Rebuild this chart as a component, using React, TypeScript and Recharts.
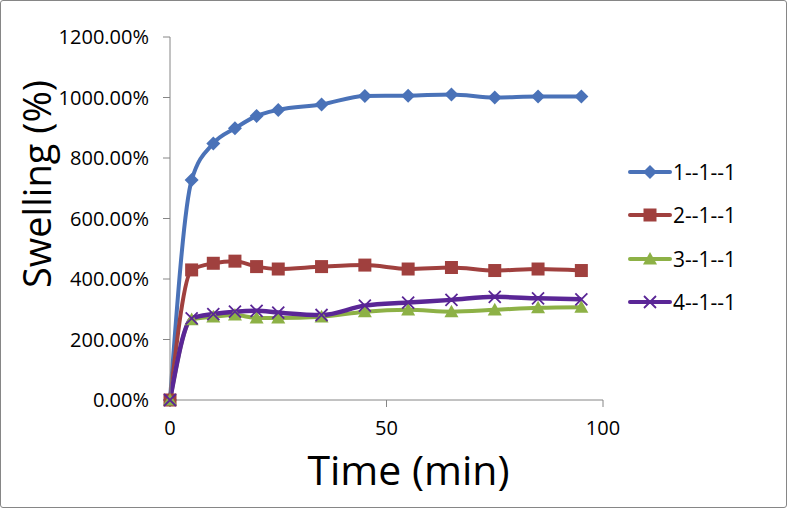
import React from "react"
import { Label, Line, LineChart, XAxis, YAxis } from "recharts"

const times = [0, 5, 10, 15, 20, 25, 35, 45, 55, 65, 75, 85, 95]
const s1 = [0, 727, 848, 898, 939, 959, 977, 1005, 1006, 1010, 1000, 1003, 1003]
const s2 = [0, 430, 452, 459, 441, 433, 441, 446, 433, 438, 428, 433, 428]
const s3 = [0, 266, 275, 281, 271, 271, 275, 292, 298, 292, 298, 305, 307]
const s4 = [0, 270, 284, 292, 295, 289, 281, 312, 322, 331, 341, 336, 333]
const yTicks = [0, 200, 400, 600, 800, 1000, 1200]
const xTicks = [0, 50, 100]
const seriesNames = ["1--1--1", "2--1--1", "3--1--1", "4--1--1"]

const data = times.map((t, i) => ({ t, a: s1[i], b: s2[i], c: s3[i], d: s4[i] }))

const FONT = "'Open Sans', sans-serif"
const AXIS = "#868686"
const colors = ["#4A72B8", "#A0403E", "#8DB146", "#5A2696"]

type Shape = "diamond" | "square" | "triangle" | "cross"
const shapes: Shape[] = ["diamond", "square", "triangle", "cross"]

function Marker({ cx, cy, shape, color }: { cx: number; cy: number; shape: Shape; color: string }) {
  if (shape === "diamond") {
    const r = 7
    return <path d={`M${cx},${cy - r}L${cx + r},${cy}L${cx},${cy + r}L${cx - r},${cy}Z`} fill={color} />
  }
  if (shape === "square") {
    const r = 6.5
    return <rect x={cx - r} y={cy - r} width={r * 2} height={r * 2} fill={color} />
  }
  if (shape === "triangle") {
    const r = 7
    return <path d={`M${cx},${cy - r}L${cx + r},${cy + r * 0.8}L${cx - r},${cy + r * 0.8}Z`} fill={color} />
  }
  const r = 6
  return (
    <path
      d={`M${cx - r},${cy - r}L${cx + r},${cy + r}M${cx - r},${cy + r}L${cx + r},${cy - r}`}
      stroke={color}
      strokeWidth={1.8}
      fill="none"
    />
  )
}

const dotFor = (shape: Shape, color: string) => (props: any) => (
  <g key={`${shape}-${props.index}`}>
    <Marker cx={props.cx} cy={props.cy} shape={shape} color={color} />
  </g>
)

function LegendBox() {
  return (
    <div style={{ position: "absolute", left: 628, top: 150, fontFamily: FONT, fontSize: 21, color: "#000" }}>
      {seriesNames.map((name, i) => (
        <div key={name} style={{ display: "flex", alignItems: "center", height: 43.5 }}>
          <svg width={44} height={20} style={{ display: "block" }}>
            <line x1={2} y1={10} x2={42} y2={10} stroke={colors[i]} strokeWidth={4} strokeLinecap="round" />
            <Marker cx={22} cy={10} shape={shapes[i]} color={colors[i]} />
          </svg>
          <span style={{ marginLeft: 1 }}>{name}</span>
        </div>
      ))}
    </div>
  )
}

export default function App() {
  const keys = ["a", "b", "c", "d"]
  const widths = [4, 4, 4, 4.5]
  return (
    <div style={{ position: "fixed", left: 0, top: 0, width: 787, height: 508, background: "#fff" }}>
      <LineChart width={787} height={508} data={data} margin={{ top: 37, right: 184, bottom: 0, left: 0 }}>
        <XAxis
          dataKey="t"
          type="number"
          domain={[0, 100]}
          ticks={xTicks}
          height={108}
          stroke={AXIS}
          tickSize={7}
          tick={{ fill: "#000", fontFamily: FONT, fontSize: 20 }}
          tickMargin={14}
        >
          <Label
            content={({ viewBox }: any) => (
              <text
                x={viewBox.x + viewBox.width / 2 + 22}
                y={485}
                textAnchor="middle"
                fontFamily={FONT}
                fontSize={41}
                fill="#000"
              >
                Time (min)
              </text>
            )}
          />
        </XAxis>
        <YAxis
          type="number"
          domain={[0, 1200]}
          ticks={yTicks}
          width={170}
          stroke={AXIS}
          tickSize={7}
          tickMargin={14}
          tickFormatter={(v: number) => `${v.toFixed(2)}%`}
          tick={{ fill: "#000", fontFamily: FONT, fontSize: 20 }}
        >
          <Label
            content={() => (
              <text
                x={0}
                y={0}
                transform="translate(51,184) rotate(-90)"
                textAnchor="middle"
                fontFamily={FONT}
                fontSize={38}
                fill="#000"
              >
                Swelling (%)
              </text>
            )}
          />
        </YAxis>
        {keys.map((k, i) => (
          <Line
            key={k}
            type="monotone"
            dataKey={k}
            name={seriesNames[i]}
            stroke={colors[i]}
            strokeWidth={widths[i]}
            dot={dotFor(shapes[i], colors[i])}
            activeDot={false}
            isAnimationActive={false}
          />
        ))}
      </LineChart>
      <LegendBox />
      <div
        style={{
          position: "absolute",
          left: 0,
          top: 0,
          width: 787,
          height: 508,
          boxSizing: "border-box",
          border: `1px solid ${AXIS}`,
          borderRadius: 3,
          pointerEvents: "none",
        }}
      />
    </div>
  )
}
